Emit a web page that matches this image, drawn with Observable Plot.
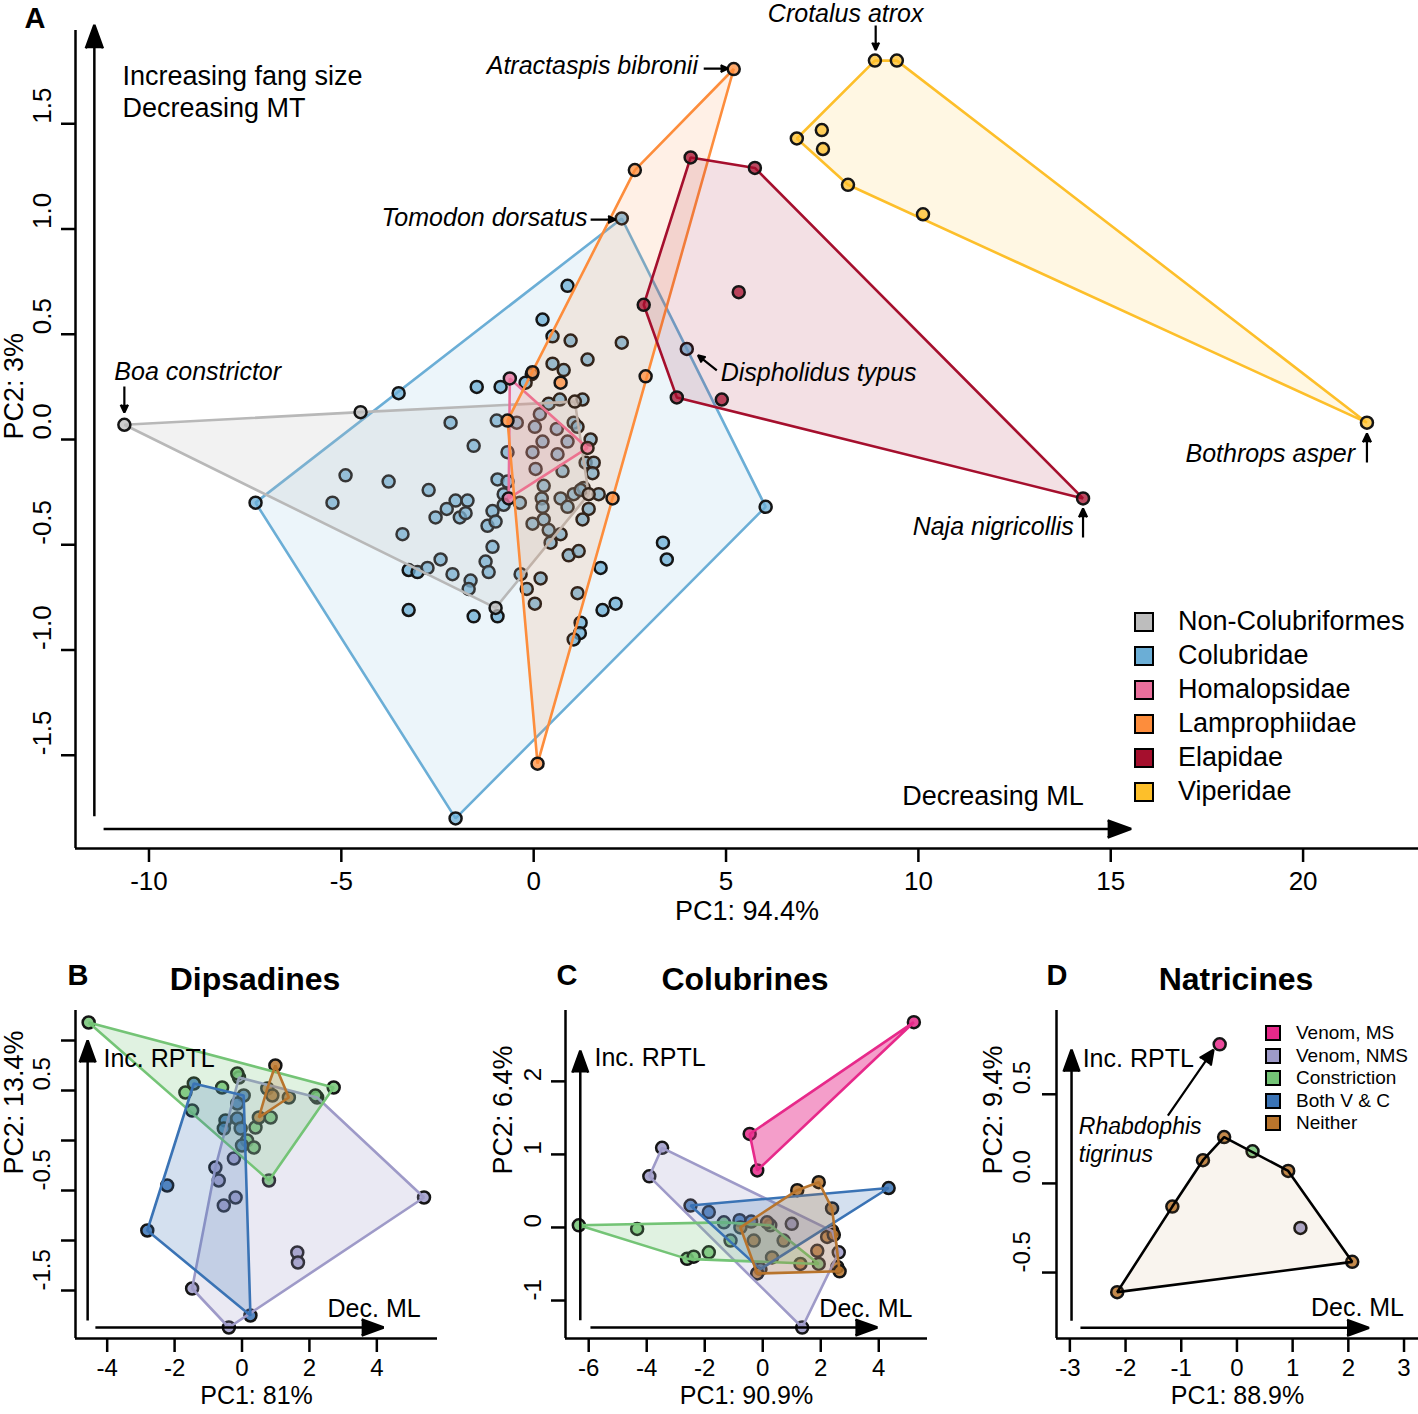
<!DOCTYPE html>
<html><head><meta charset="utf-8">
<script src="https://cdn.jsdelivr.net/npm/d3@7"></script>
<script src="https://cdn.jsdelivr.net/npm/@observablehq/plot@0.6"></script>
<style>
body{margin:0;background:#fff;font-family:"Liberation Sans",Arial,Helvetica,sans-serif;}
#root{position:relative;width:1418px;height:1414px;overflow:hidden;background:#fff;}
.panel{position:absolute;top:0;left:0;}
.abs{position:absolute;color:#000;white-space:nowrap;line-height:1;}
.sq{position:absolute;box-sizing:border-box;border:2.5px solid #000;}
</style></head><body><div id="root"></div>
<script>
// ---------------- Panel A data (PC1, PC2) ----------------
const familyNames = ["Non-Colubriformes","Colubridae","Homalopsidae","Lamprophiidae","Elapidae","Viperidae"];
const familyColors = ["#bdbdbd","#6baed6","#ea6f9c","#fd8d3c","#a50f2d","#fdbf2a"];
const nonColubriformes = [[-10.64,0.07],[-4.50,0.13],[1.07,0.18],[1.43,-0.26],[-0.99,-0.80]];
const colubridae = [[-7.23,-0.30],[2.29,1.05],[6.03,-0.32],[-2.03,-1.80],[3.98,0.43],[0.88,0.73],[0.23,0.57],[0.49,0.49],[0.96,0.47],[2.29,0.46],[1.40,0.38],[0.49,0.36],[0.78,0.33],[-0.05,0.31],[-0.21,0.27],[-1.48,0.25],[-0.86,0.25],[-3.51,0.22],[0.39,0.17],[0.68,0.19],[1.27,0.19],[-2.16,0.08],[-0.96,0.09],[-0.44,0.08],[0.16,0.12],[0.03,0.06],[0.60,0.05],[1.04,0.08],[1.14,0.06],[-1.56,-0.03],[-0.68,-0.06],[0.23,-0.01],[0.88,-0.01],[-0.03,-0.06],[0.62,-0.07],[1.48,0.00],[1.35,-0.11],[1.56,-0.11],[1.53,-0.16],[0.05,-0.14],[0.75,-0.15],[-3.77,-0.20],[-2.73,-0.24],[-0.94,-0.19],[-0.68,-0.20],[0.26,-0.22],[1.30,-0.23],[1.69,-0.26],[-0.78,-0.26],[-0.36,-0.30],[0.21,-0.28],[0.70,-0.28],[1.04,-0.26],[1.22,-0.24],[-2.03,-0.29],[-1.72,-0.29],[-2.26,-0.33],[-2.55,-0.37],[-1.92,-0.37],[-1.77,-0.35],[-1.07,-0.34],[-0.78,-0.31],[0.23,-0.32],[0.88,-0.32],[1.43,-0.33],[0.26,-0.38],[-1.20,-0.41],[-0.99,-0.39],[-0.03,-0.40],[1.27,-0.38],[0.39,-0.43],[0.70,-0.45],[-3.41,-0.45],[-1.07,-0.51],[0.44,-0.49],[0.91,-0.55],[1.17,-0.53],[3.36,-0.49],[3.46,-0.57],[-2.42,-0.57],[-3.25,-0.62],[-3.02,-0.63],[-2.76,-0.61],[-2.11,-0.64],[-1.64,-0.67],[-1.69,-0.71],[-1.25,-0.58],[-1.17,-0.63],[-0.34,-0.64],[-0.18,-0.71],[0.18,-0.66],[1.74,-0.61],[1.14,-0.73],[0.03,-0.78],[-3.25,-0.81],[-1.56,-0.84],[-0.94,-0.84],[1.22,-0.87],[1.20,-0.92],[1.04,-0.95],[1.79,-0.81],[2.13,-0.78],[-4.89,-0.17],[-5.23,-0.30]];
const homalopsidae = [[-0.62,0.29],[1.40,-0.04],[-0.65,-0.28]];
const lamprophiidae = [[5.20,1.76],[2.63,1.28],[-0.68,0.09],[0.10,-1.54],[2.05,-0.28],[2.91,0.30],[0.70,0.27],[-0.03,0.32]];
const elapidae = [[4.08,1.34],[5.75,1.29],[14.28,-0.28],[3.72,0.20],[2.86,0.64],[5.33,0.70],[4.89,0.19]];
const viperidae = [[8.87,1.80],[9.44,1.80],[6.84,1.43],[7.49,1.47],[7.52,1.38],[8.17,1.21],[10.12,1.07],[21.66,0.08]];
const xTicksA = [-10,-5,0,5,10,15,20];
const yTicksA = [-1.5,-1.0,-0.5,0.0,0.5,1.0,1.5];
const speciesLabelsA = [
  {label:"Crotalus atrox", x:8.11, y:2.022, anchor:"middle"},
  {label:"Atractaspis bibronii", x:4.27, y:1.772, anchor:"end"},
  {label:"Tomodon dorsatus", x:1.40, y:1.050, anchor:"end"},
  {label:"Boa constrictor", x:-10.90, y:0.323, anchor:"start"},
  {label:"Dispholidus typus", x:4.86, y:0.314, anchor:"start"},
  {label:"Bothrops asper", x:21.35, y:-0.067, anchor:"end"},
  {label:"Naja nigricollis", x:14.04, y:-0.418, anchor:"end"}
];
const speciesArrowsA = [
  {x1:8.89,y1:1.967,x2:8.89,y2:1.850},
  {x1:4.42,y1:1.762,x2:5.05,y2:1.762},
  {x1:1.48,y1:1.045,x2:2.13,y2:1.045},
  {x1:-10.64,y1:0.252,x2:-10.64,y2:0.128},
  {x1:4.76,y1:0.328,x2:4.27,y2:0.400},
  {x1:21.66,y1:-0.109,x2:21.66,y2:0.029},
  {x1:14.28,y1:-0.466,x2:14.28,y2:-0.328}
];
const axisArrowsA = [{x1:-11.42,y1:-1.79,x2:-11.42,y2:1.97},{x1:-11.18,y1:-1.85,x2:15.53,y2:-1.85}];
const axisNotesA = [
  {label:"Increasing fang size", x:-10.69, y:1.724, anchor:"start"},
  {label:"Decreasing MT", x:-10.69, y:1.572, anchor:"start"},
  {label:"Decreasing ML", x:14.30, y:-1.696, anchor:"end"}
];

// ---------------- Panels B-D data ----------------
const modeNames = ["Venom, MS","Venom, NMS","Constriction","Both V & C","Neither"];
const modeColors = ["#e7298a","#9e9ac8","#74c476","#3a73b5","#b8742c"];
// B: Dipsadines
const bVenomMS = [];
const bVenomNMS = [[5.40,-0.57],[-0.39,-1.87],[-1.48,-1.48],[-0.79,-0.27],[-0.69,-0.40],[-0.19,-0.57],[-0.54,-0.65],[1.64,-1.12],[1.66,-1.22],[-0.24,-0.18],[-0.09,0.63],[2.23,0.43]];
const bConstriction = [[-4.55,1.18],[2.72,0.53],[0.80,-0.40],[-1.48,0.30],[-1.68,0.48],[-0.59,0.53],[-0.14,0.67],[0.40,0.13],[0.15,0.00],[0.35,-0.07],[2.18,0.45],[0.85,0.23]];
const bBoth = [[-1.43,0.57],[0.05,0.45],[0.25,-1.75],[-2.81,-0.90],[-2.22,-0.45],[-0.49,0.20],[-0.14,0.22],[-0.54,0.12],[-0.04,0.12],[-0.14,0.37],[0.00,-0.05]];
const bNeither = [[0.99,0.75],[1.39,0.43],[0.50,0.23],[0.75,0.52],[0.90,0.45]];
// C: Colubrines
const cVenomMS = [[5.21,2.81],[-0.45,1.28],[-0.19,0.78]];
const cVenomNMS = [[-3.47,1.09],[-3.91,0.70],[1.36,-1.37],[2.62,-0.34],[1.00,0.05],[2.40,-0.05]];
const cConstriction = [[-6.34,0.03],[-4.33,-0.02],[-2.61,-0.43],[-2.38,-0.40],[-1.86,-0.34],[0.26,0.03],[1.93,-0.50],[-1.11,-0.18],[-1.34,0.07]];
const cBoth = [[4.34,0.54],[-2.49,0.30],[-0.08,-0.57],[-1.86,0.21],[-0.80,0.10],[-0.40,0.08]];
const cNeither = [[1.93,0.62],[1.19,0.51],[2.57,-0.54],[-0.19,-0.63],[-0.77,0.00],[2.39,0.26],[0.15,0.07],[0.72,-0.18],[1.88,-0.32],[2.22,-0.13],[1.30,-0.50],[-0.31,-0.18],[0.32,-0.41],[2.65,-0.60],[2.45,-0.10]];
// D: Natricines
const dVenomMS = [[-0.31,0.78]];
const dVenomNMS = [[1.14,-0.25]];
const dConstriction = [[0.28,0.18]];
const dBoth = [];
const dNeither = [[-0.23,0.26],[-0.61,0.13],[-1.16,-0.13],[-2.15,-0.61],[2.07,-0.44],[0.92,0.07]];

const FONT = "'Liberation Sans', Arial, Helvetica, sans-serif";
const root = document.getElementById("root");

function toRows(names, lists) {
  return names.flatMap((g, i) => lists[i].map(([pc1, pc2]) => ({group: g, pc1, pc2})));
}
function axisMarks(o) {
  return [
    Plot.ruleX([o.xDomain[0]], {strokeWidth: 2.5}),
    Plot.ruleY([o.yDomain[0]], {strokeWidth: 2.5}),
    Plot.axisX({ticks: o.xTicks, tickSize: 14, tickPadding: o.tickPad, fontSize: o.tickSize, tickFormat: d => String(d), strokeWidth: 2.5, label: null}),
    Plot.axisY({ticks: o.yTicks, tickSize: 14, tickFormat: () => "", strokeWidth: 2.5, label: null}),
    Plot.text(o.yLabels, {y: d => d, frameAnchor: "left", dx: o.yLabelDx, rotate: -90, text: o.yFormat, fontSize: o.tickSize}),
    Plot.text([o.xTitle], {frameAnchor: "bottom", dy: o.xTitleDy, text: d => d, fontSize: o.xTitleSize}),
    Plot.text([o.yTitle], {frameAnchor: "left", dx: o.yTitleDx, rotate: -90, text: d => d, fontSize: 27})
  ];
}
function place(svg, left, top) {
  const wrap = document.createElement("div");
  wrap.className = "panel";
  wrap.style.left = left + "px";
  wrap.style.top = top + "px";
  wrap.appendChild(svg);
  root.appendChild(wrap);
}
function addText(txt, x, y, css) {
  const d = document.createElement("div");
  d.className = "abs";
  d.textContent = txt;
  d.style.left = x + "px";
  d.style.top = y + "px";
  Object.assign(d.style, css || {});
  root.appendChild(d);
  return d;
}

// ---------------- Panel A ----------------
const tableA = toRows(familyNames, [nonColubriformes, colubridae, homalopsidae, lamprophiidae, elapidae, viperidae]);
const drawOrderA = [1, 0, 2, 3, 4, 5];
const xDomainA = [-11.91, 23.0], yDomainA = [-1.943, 1.943];
const plotA = Plot.plot({
  width: 1418, height: 930,
  marginLeft: 75, marginRight: 0, marginTop: 30, marginBottom: 82,
  x: {domain: xDomainA, label: null},
  y: {domain: yDomainA, label: null},
  style: {fontFamily: FONT, fontSize: "22px", background: "transparent", overflow: "visible"},
  marks: [
    ...drawOrderA.flatMap(i => {
      const rows = tableA.filter(d => d.group === familyNames[i]);
      const strokeCol = i === 0 ? "#b8b8b8" : familyColors[i];
      return [
        Plot.hull(rows, {x: "pc1", y: "pc2", fill: familyColors[i], fillOpacity: i === 0 ? 0.2 : 0.13, stroke: strokeCol, strokeWidth: 2.6}),
        Plot.dot(rows, {x: "pc1", y: "pc2", r: 6, fill: familyColors[i], fillOpacity: 0.75, stroke: "#151515", strokeWidth: 2.5})
      ];
    }),
    ...axisMarks({xDomain: xDomainA, yDomain: yDomainA, xTicks: xTicksA, yTicks: yTicksA, yLabels: yTicksA,
      tickSize: 26, tickPad: 9,
      yFormat: d => d.toFixed(1), yLabelDx: -33, xTitle: "PC1: 94.4%", xTitleDy: 71, xTitleSize: 27, yTitle: "PC2: 3%", yTitleDx: -61}),
    Plot.arrow(axisArrowsA, {x1: "x1", y1: "y1", x2: "x2", y2: "y2", stroke: "black", fill: "black", strokeWidth: 2.5, headLength: 15, headAngle: 40, strokeLinecap: "butt"}),
    Plot.arrow(speciesArrowsA, {x1: "x1", y1: "y1", x2: "x2", y2: "y2", stroke: "black", fill: "black", strokeWidth: 2.2, headLength: 11, headAngle: 50, strokeLinecap: "butt"}),
    ...["start", "middle", "end"].map(a => Plot.text(speciesLabelsA.filter(d => d.anchor === a), {x: "x", y: "y", text: "label", textAnchor: a, fontStyle: "italic", fontSize: 25})),
    ...["start", "end"].map(a => Plot.text(axisNotesA.filter(d => d.anchor === a), {x: "x", y: "y", text: "label", textAnchor: a, fontSize: 27}))
  ]
});
place(plotA, 0, 0);

// Legend A
familyNames.forEach((name, i) => {
  const cy = 622 + 34 * i;
  const s = document.createElement("div");
  s.className = "sq";
  Object.assign(s.style, {left: "1134px", top: (cy - 10) + "px", width: "20px", height: "20px", background: familyColors[i]});
  root.appendChild(s);
  addText(name, 1178, cy - 14, {fontSize: "27px"});
});
addText("A", 35, 18, {fontSize: "29px", fontWeight: "bold", transform: "translate(-50%,-50%)"});

// ---------------- Small panels ----------------
function smallPanel(o) {
  const rows = toRows(modeNames, o.lists);
  const marks = [];
  modeNames.forEach((g, i) => {
    const r = rows.filter(d => d.group === g);
    marks.push(Plot.dot(r, {x: "pc1", y: "pc2", r: 6, fill: modeColors[i], fillOpacity: 0.85, stroke: "#151515", strokeWidth: 2.5}));
  });
  modeNames.forEach((g, i) => {
    const r = rows.filter(d => d.group === g);
    if (r.length >= 3) {
      const op = (o.hullOpacity && o.hullOpacity[g] != null) ? o.hullOpacity[g] : (i === 0 ? 0.45 : 0.22);
      marks.push(Plot.hull(r, {x: "pc1", y: "pc2", fill: modeColors[i], fillOpacity: op,
        stroke: (o.hullStroke && o.hullStroke[g]) || modeColors[i], strokeWidth: 2.6}));
    }
  });
  marks.push(...axisMarks({...o, tickSize: 24, tickPad: 6, xTitleDy: 65, xTitleSize: 25}));
  marks.push(Plot.arrow(o.arrows, {x1: "x1", y1: "y1", x2: "x2", y2: "y2", stroke: "black", fill: "black", strokeWidth: 2.5, headLength: 14, headAngle: 40, strokeLinecap: "butt"}));
  marks.push(...["start", "end"].map(a => Plot.text(o.notes.filter(d => d.anchor === a), {x: "x", y: "y", text: "label", textAnchor: a, fontSize: 25})));
  if (o.extra) marks.push(...o.extra);
  const p = Plot.plot({
    width: o.width, height: 464,
    marginLeft: o.marginLeft, marginRight: o.marginRight, marginTop: 60, marginBottom: 76,
    x: {domain: o.xDomain, label: null},
    y: {domain: o.yDomain, label: null},
    style: {fontFamily: FONT, fontSize: "22px", background: "transparent", overflow: "visible"},
    marks
  });
  place(p, o.left, 950);
  addText(o.letter, o.letterX, 975, {fontSize: "29px", fontWeight: "bold", transform: "translate(-50%,-50%)"});
  addText(o.title, o.titleX, 979, {fontSize: "32px", fontWeight: "bold", transform: "translate(-50%,-50%)"});
}

smallPanel({
  lists: [bVenomMS, bVenomNMS, bConstriction, bBoth, bNeither],
  left: 0, width: 445, marginLeft: 75, marginRight: 8,
  xDomain: [-4.94, 5.80], yDomain: [-1.98, 1.30],
  xTicks: [-4, -2, 0, 2, 4], yTicks: [-1.5, -1.0, -0.5, 0.0, 0.5, 1.0], yLabels: [-1.5, -0.5, 0.5],
  yFormat: d => d.toFixed(1), yLabelDx: -33, xTitle: "PC1: 81%", yTitle: "PC2: 13.4%", yTitleDx: -61,
  arrows: [{x1: -4.58, y1: -1.80, x2: -4.58, y2: 1.00}, {x1: -4.35, y1: -1.87, x2: 4.20, y2: -1.87}],
  notes: [{label: "Inc. RPTL", x: -4.11, y: 0.82, anchor: "start"}, {label: "Dec. ML", x: 5.30, y: -1.68, anchor: "end"}],
  letter: "B", letterX: 78, title: "Dipsadines", titleX: 255
});

smallPanel({
  lists: [cVenomMS, cVenomNMS, cConstriction, cBoth, cNeither],
  left: 490, width: 440, marginLeft: 75, marginRight: 3,
  xDomain: [-6.80, 5.68], yDomain: [-1.52, 2.97],
  xTicks: [-6, -4, -2, 0, 2, 4], yTicks: [-1, 0, 1, 2], yLabels: [-1, 0, 1, 2],
  yFormat: d => String(d), yLabelDx: -32, xTitle: "PC1: 90.9%", yTitle: "PC2: 6.4%", yTitleDx: -62,
  arrows: [{x1: -6.29, y1: -1.27, x2: -6.29, y2: 2.42}, {x1: -5.94, y1: -1.37, x2: 3.95, y2: -1.37}],
  notes: [{label: "Inc. RPTL", x: -5.80, y: 2.32, anchor: "start"}, {label: "Dec. ML", x: 5.16, y: -1.11, anchor: "end"}],
  letter: "C", letterX: 567, title: "Colubrines", titleX: 745
});

smallPanel({
  lists: [dVenomMS, dVenomNMS, dConstriction, dBoth, dNeither],
  left: 980, width: 438, marginLeft: 76, marginRight: 0,
  xDomain: [-3.24, 3.26], yDomain: [-0.87, 0.97],
  xTicks: [-3, -2, -1, 0, 1, 2, 3], yTicks: [-0.5, 0.0, 0.5], yLabels: [-0.5, 0.0, 0.5],
  yFormat: d => d.toFixed(1), yLabelDx: -34, xTitle: "PC1: 88.9%", yTitle: "PC2: 9.4%", yTitleDx: -63,
  hullStroke: {"Neither": "#000"}, hullOpacity: {"Neither": 0.08},
  arrows: [{x1: -2.97, y1: -0.77, x2: -2.97, y2: 0.75}, {x1: -2.81, y1: -0.81, x2: 2.37, y2: -0.81}],
  notes: [{label: "Inc. RPTL", x: -2.77, y: 0.70, anchor: "start"}, {label: "Dec. ML", x: 3.0, y: -0.70, anchor: "end"}],
  extra: [
    Plot.arrow([{x1: -1.24, y1: 0.38, x2: -0.42, y2: 0.75}], {x1: "x1", y1: "y1", x2: "x2", y2: "y2", stroke: "black", fill: "black", strokeWidth: 2.2, headLength: 11, headAngle: 50, strokeLinecap: "butt"}),
    Plot.text([{label: "Rhabdophis", x: -2.84, y: 0.32}, {label: "tigrinus", x: -2.84, y: 0.16}], {x: "x", y: "y", text: "label", textAnchor: "start", fontStyle: "italic", fontSize: 23})
  ],
  letter: "D", letterX: 1057, title: "Natricines", titleX: 1236
});

// Legend D
modeNames.forEach((name, i) => {
  const cy = 1033 + 22.6 * i;
  const s = document.createElement("div");
  s.className = "sq";
  Object.assign(s.style, {left: "1265px", top: (cy - 8) + "px", width: "16px", height: "16px", background: modeColors[i], borderWidth: "2px"});
  root.appendChild(s);
  addText(name, 1296, cy - 10, {fontSize: "19px"});
});
</script>
</body></html>
